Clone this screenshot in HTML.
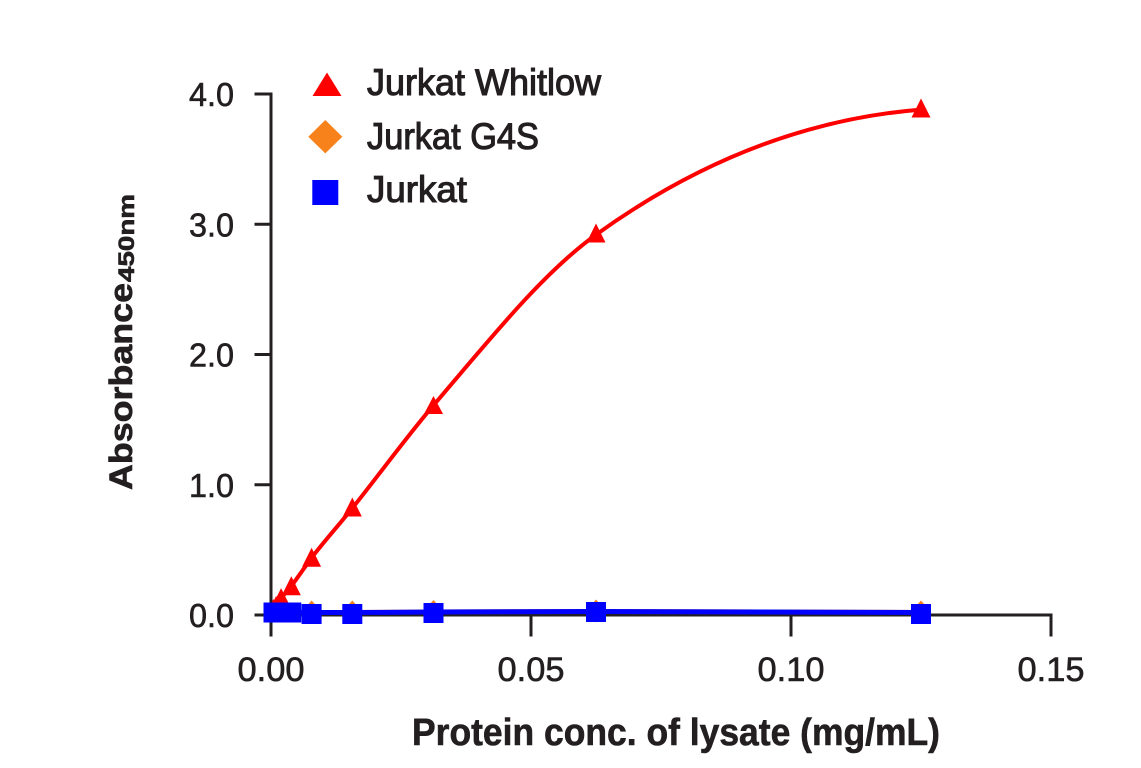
<!DOCTYPE html>
<html>
<head>
<meta charset="utf-8">
<style>
  html, body { margin: 0; padding: 0; background: #ffffff; }
  body { width: 1141px; height: 768px; overflow: hidden; }
  svg { display: block; }
  text { font-family: "Liberation Sans", "DejaVu Sans", sans-serif; fill: #231f20; }
</style>
</head>
<body>
<svg width="1141" height="768" viewBox="0 0 1141 768" xmlns="http://www.w3.org/2000/svg">
  <rect x="0" y="0" width="1141" height="768" fill="#ffffff"/>

  <!-- Axes -->
  <g stroke="#231f20" stroke-width="3" fill="none" stroke-linecap="square">
    <line x1="271" y1="94" x2="271" y2="615"/>
    <line x1="271" y1="615" x2="1051" y2="615"/>
    <line x1="256" y1="94" x2="271" y2="94"/>
    <line x1="256" y1="224.25" x2="271" y2="224.25"/>
    <line x1="256" y1="354.5" x2="271" y2="354.5"/>
    <line x1="256" y1="484.75" x2="271" y2="484.75"/>
    <line x1="256" y1="615" x2="271" y2="615"/>
    <line x1="271" y1="615" x2="271" y2="635"/>
    <line x1="531" y1="615" x2="531" y2="635"/>
    <line x1="791" y1="615" x2="791" y2="635"/>
    <line x1="1051" y1="615" x2="1051" y2="635"/>
  </g>

  <!-- Y tick labels -->
  <g font-size="33" text-anchor="end" stroke="#231f20" stroke-width="0.6">
    <text x="234" y="106" textLength="45" lengthAdjust="spacingAndGlyphs">4.0</text>
    <text x="234" y="236.25" textLength="45" lengthAdjust="spacingAndGlyphs">3.0</text>
    <text x="234" y="366.5" textLength="45" lengthAdjust="spacingAndGlyphs">2.0</text>
    <text x="234" y="496.75" textLength="45" lengthAdjust="spacingAndGlyphs">1.0</text>
    <text x="234" y="627" textLength="45" lengthAdjust="spacingAndGlyphs">0.0</text>
  </g>

  <!-- X tick labels -->
  <g font-size="34" stroke="#231f20" stroke-width="0.6">
    <text x="237.5" y="681" textLength="67" lengthAdjust="spacingAndGlyphs">0.00</text>
    <text x="497.5" y="681" textLength="67" lengthAdjust="spacingAndGlyphs">0.05</text>
    <text x="757.5" y="681" textLength="67" lengthAdjust="spacingAndGlyphs">0.10</text>
    <text x="1017.5" y="681" textLength="67" lengthAdjust="spacingAndGlyphs">0.15</text>
  </g>

  <!-- X axis title -->
  <text x="412" y="745" font-size="38" font-weight="bold" stroke="#231f20" stroke-width="0.6" textLength="528" lengthAdjust="spacingAndGlyphs">Protein conc. of lysate (mg/mL)</text>

  <!-- Y axis title -->
  <g transform="translate(132,490) rotate(-90)" stroke="#231f20" stroke-width="0.6">
    <text x="0" y="0" font-size="32" font-weight="bold" textLength="207" lengthAdjust="spacingAndGlyphs">Absorbance</text>
    <text x="208" y="2" font-size="22" font-weight="bold" textLength="88" lengthAdjust="spacingAndGlyphs">450nm</text>
  </g>

  <!-- Legend -->
  <polygon points="327,72.5 312.5,96 341.5,96" fill="#ff0000"/>
  <polygon points="325.3,120 342.3,136.7 325.3,153.4 308.3,136.7" fill="#f7821b"/>
  <rect x="312.3" y="180" width="26" height="25" fill="#0000ff"/>
  <g font-size="37" stroke="#231f20" stroke-width="1.1">
    <text x="367" y="95" textLength="234" lengthAdjust="spacingAndGlyphs">Jurkat Whitlow</text>
    <text x="367" y="149" textLength="172" lengthAdjust="spacingAndGlyphs">Jurkat G4S</text>
    <text x="367" y="202" textLength="100" lengthAdjust="spacingAndGlyphs">Jurkat</text>
  </g>

  <!-- Red series (Jurkat Whitlow) -->
  <path d="M 272.5 611 L 273.5 609 L 276.1 605.9 L 281.1 598.1 L 291.3 586.3 L 311.6 557.7 C 325.2 540.1 338.7 525.2 352.3 508.2 C 379.4 474.4 406.4 437.0 433.5 405.3 C 487.7 341.9 541.8 273.7 596 234.7 C 704.3 156.7 812.7 118.3 921 109.6"
        fill="none" stroke="#ff0000" stroke-width="4" stroke-linejoin="round" stroke-linecap="round"/>
  <g fill="#ff0000">
    <polygon points="273.5,599 264,617 283,617"/>
    <polygon points="276.1,596 266.6,614.9 285.6,614.9"/>
    <polygon points="281.1,588.1 271.6,607.1 290.6,607.1"/>
    <polygon points="291.3,576.3 281.8,595.3 300.8,595.3"/>
    <polygon points="311.6,547.7 302.1,566.7 321.1,566.7"/>
    <polygon points="352.3,497.5 342.8,516.5 361.8,516.5"/>
    <polygon points="433.5,396 424,414 443,414"/>
    <polygon points="596,223.5 586.5,242.5 605.5,242.5"/>
    <polygon points="921,98.5 911.5,117.5 930.5,117.5"/>
  </g>

  <!-- Orange series (Jurkat G4S), mostly hidden -->
  <polyline points="273.5,612 276.1,612 281.1,612 291.3,612 311.6,612 352.3,612 433.5,611.5 596,611 921,612"
            fill="none" stroke="#f7821b" stroke-width="4"/>
  <g fill="#f7821b">
    <polygon points="311.6,600.5 322,612 311.6,623.5 301.2,612"/>
    <polygon points="352.3,600.5 362.7,612 352.3,623.5 341.9,612"/>
    <polygon points="433.5,600 443.9,611.5 433.5,623 423.1,611.5"/>
    <polygon points="596,599.5 606.4,611 596,622.5 585.6,611"/>
    <polygon points="921,600.5 931.4,612 921,623.5 910.6,612"/>
  </g>

  <!-- Blue series (Jurkat) -->
  <polyline points="273.5,612.5 276.1,612.5 281.1,612.5 291.3,612.5 311.6,612.5 352.3,612.5 433.5,612 596,611.5 921,612.5"
            fill="none" stroke="#0000ff" stroke-width="5"/>
  <g fill="#0000ff">
    <rect x="263.5" y="602.5" width="20" height="20"/>
    <rect x="266.1" y="602.5" width="20" height="20"/>
    <rect x="271.1" y="602.5" width="20" height="20"/>
    <rect x="281.3" y="602.5" width="20" height="20"/>
    <rect x="301.6" y="604" width="20" height="20"/>
    <rect x="342.3" y="604" width="20" height="20"/>
    <rect x="423.5" y="603" width="20" height="20"/>
    <rect x="586" y="602" width="20" height="20"/>
    <rect x="911" y="604" width="20" height="20"/>
  </g>
</svg>
</body>
</html>
